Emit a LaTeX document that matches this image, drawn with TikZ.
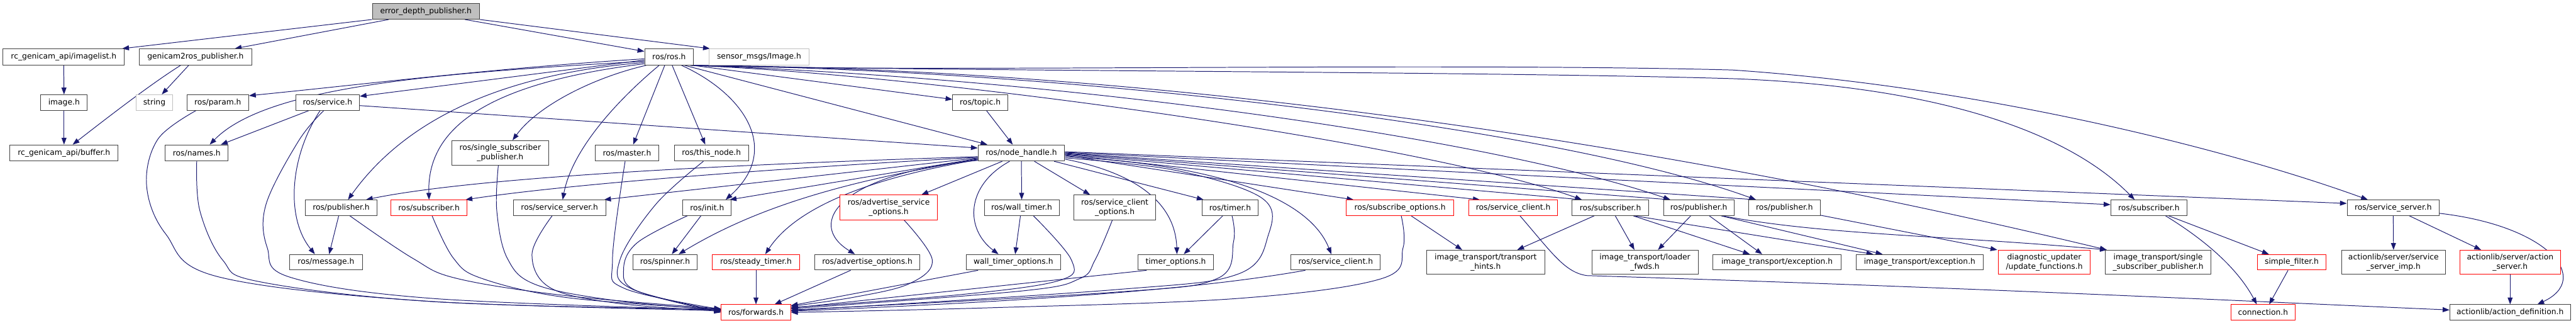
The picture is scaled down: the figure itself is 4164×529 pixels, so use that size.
\documentclass[tikz,border=0pt]{standalone}
\usepackage{fontspec}
\setmainfont{DejaVu Sans}
\usetikzlibrary{arrows.meta}
\definecolor{edgec}{HTML}{191970}
\definecolor{lgray}{HTML}{BFBFBF}
\definecolor{bordc}{HTML}{404040}
\pgfdeclarelayer{bg}
\pgfdeclarelayer{paper}
\pgfsetlayers{paper,bg,main}
\begin{document}
\begin{tikzpicture}[x=1pt,y=-1pt,
  box/.style={draw=bordc, line width=1pt, fill=white, inner sep=0pt, align=center,
    font=\fontsize{12.5}{15}\selectfont},
  redbox/.style={box, draw=red},
  graybox/.style={box, draw=lgray},
  rootbox/.style={box, fill=lgray},
  e/.style={draw=edgec, line width=1pt, -{Triangle[length=11pt,width=8pt]}},
  sm/.style={smooth, tension=0.6}]
\begin{pgfonlayer}{paper}
\fill[white] (0,0) rectangle (4164,529);
\end{pgfonlayer}
\useasboundingbox (0,0) rectangle (4164,529);
% row 0
\node[rootbox, minimum width=173pt, minimum height=25pt] (root) at (688.5,18.5) {error\_depth\_publisher.h};
% row 1
\node[box, minimum width=196pt, minimum height=26pt] (imagelist) at (103,92) {rc\_genicam\_api/imagelist.h};
\node[box, minimum width=182pt, minimum height=26pt] (g2r) at (316,92) {genicam2ros\_publisher.h};
\node[box, minimum width=79pt, minimum height=26pt] (rosros) at (1081.5,92) {ros/ros.h};
\node[graybox, minimum width=162pt, minimum height=26pt] (sensor) at (1227,92) {sensor\_msgs/Image.h};
% row 2
\node[box, minimum width=75pt, minimum height=25pt] (imageh) at (103.5,165.5) {image.h};
\node[graybox, minimum width=59pt, minimum height=25pt] (string) at (249.5,165.5) {string};
\node[box, minimum width=100pt, minimum height=25pt] (param) at (352,165.5) {ros/param.h};
\node[box, minimum width=103pt, minimum height=25pt] (service) at (529.5,165.5) {ros/service.h};
\node[box, minimum width=89pt, minimum height=25pt] (topic) at (1584.5,165.5) {ros/topic.h};
% row 3
\node[box, minimum width=175pt, minimum height=26pt] (buffer) at (103.5,247) {rc\_genicam\_api/buffer.h};
\node[box, minimum width=102pt, minimum height=26pt] (names) at (318,247) {ros/names.h};
\node[box, minimum width=157pt, minimum height=40pt] (ssp) at (808.5,247) {ros/single\_subscriber\\\_publisher.h};
\node[box, minimum width=103pt, minimum height=26pt] (master) at (1013.5,247) {ros/master.h};
\node[box, minimum width=120pt, minimum height=26pt] (thisnode) at (1150,247) {ros/this\_node.h};
\node[box, minimum width=140pt, minimum height=26pt] (nh) at (1651,247) {ros/node\_handle.h};
% row 4
\node[box, minimum width=115pt, minimum height=25pt] (pub1) at (551.5,335.5) {ros/publisher.h};
\node[redbox, minimum width=123pt, minimum height=25pt] (sub1) at (693.5,335.5) {ros/subscriber.h};
\node[box, minimum width=149pt, minimum height=25pt] (ss1) at (904.5,335.5) {ros/service\_server.h};
\node[box, minimum width=78pt, minimum height=25pt] (init) at (1143,335.5) {ros/init.h};
\node[redbox, minimum width=157pt, minimum height=40pt] (aso) at (1436.5,335) {ros/advertise\_service\\\_options.h};
\node[box, minimum width=121pt, minimum height=25pt] (walltimer) at (1651.5,335.5) {ros/wall\_timer.h};
\node[box, minimum width=132pt, minimum height=40pt] (sco) at (1802,335) {ros/service\_client\\\_options.h};
\node[box, minimum width=91pt, minimum height=25pt] (timer) at (1988.5,335.5) {ros/timer.h};
\node[redbox, minimum width=174pt, minimum height=25pt] (subopt) at (2263,335.5) {ros/subscribe\_options.h};
\node[redbox, minimum width=144pt, minimum height=25pt] (sclred) at (2446,335.5) {ros/service\_client.h};
\node[box, minimum width=124pt, minimum height=25pt] (sub2) at (2603,335.5) {ros/subscriber.h};
\node[box, minimum width=114pt, minimum height=25pt] (pub2) at (2746,335.5) {ros/publisher.h};
\node[box, minimum width=115pt, minimum height=25pt] (pub3) at (2884.5,335.5) {ros/publisher.h};
\node[box, minimum width=123pt, minimum height=25pt] (sub3) at (3473.5,335.5) {ros/subscriber.h};
\node[box, minimum width=149pt, minimum height=25pt] (ss2) at (3868.5,335.5) {ros/service\_server.h};
% row 5
\node[box, minimum width=118pt, minimum height=25pt] (message) at (527,423.5) {ros/message.h};
\node[box, minimum width=104pt, minimum height=25pt] (spinner) at (1075,423.5) {ros/spinner.h};
\node[redbox, minimum width=142pt, minimum height=25pt] (steady) at (1222,423.5) {ros/steady\_timer.h};
\node[box, minimum width=170pt, minimum height=25pt] (advopt) at (1402,423.5) {ros/advertise\_options.h};
\node[box, minimum width=152pt, minimum height=25pt] (wto) at (1638,423.5) {wall\_timer\_options.h};
\node[box, minimum width=123pt, minimum height=25pt] (tio) at (1900.5,423.5) {timer\_options.h};
\node[box, minimum width=144pt, minimum height=25pt] (sclblk) at (2159,423.5) {ros/service\_client.h};
\node[box, minimum width=191pt, minimum height=39pt] (hints) at (2401.5,423.5) {image\_transport/transport\\\_hints.h};
\node[box, minimum width=172pt, minimum height=39pt] (loader) at (2659,423.5) {image\_transport/loader\\\_fwds.h};
\node[box, minimum width=207pt, minimum height=25pt] (exc1) at (2872.5,423.5) {image\_transport/exception.h};
\node[box, minimum width=206pt, minimum height=25pt] (exc2) at (3103,423.5) {image\_transport/exception.h};
\node[redbox, minimum width=149pt, minimum height=39pt] (diag) at (3304.5,423.5) {diagnostic\_updater\\/update\_functions.h};
\node[box, minimum width=171pt, minimum height=39pt] (itssp) at (3488.5,423.5) {image\_transport/single\\\_subscriber\_publisher.h};
\node[redbox, minimum width=111pt, minimum height=25pt] (sfilter) at (3704.5,423.5) {simple\_filter.h};
\node[box, minimum width=168pt, minimum height=39pt] (ssimp) at (3869,423.5) {actionlib/server/service\\\_server\_imp.h};
\node[redbox, minimum width=163pt, minimum height=39pt] (aserver) at (4057.5,423.5) {actionlib/server/action\\\_server.h};
% row 6
\node[redbox, minimum width=112pt, minimum height=25pt] (forwards) at (1222,504.5) {ros/forwards.h};
\node[redbox, minimum width=104pt, minimum height=25pt] (conn) at (3658,504.5) {connection.h};
\node[box, minimum width=195pt, minimum height=25pt] (adef) at (4057.5,504.5) {actionlib/action\_definition.h};

\begin{pgfonlayer}{bg}
% root
\draw[e] (root.south west) -- ([xshift=-4pt]imagelist.north east);
\draw[e] ([xshift=27pt]root.south west) -- ([xshift=-28pt]g2r.north east);
\draw[e] ([xshift=-24pt]root.south east) -- ([yshift=9pt]rosros.west);
\draw[e] (root.south east) -- ([xshift=2pt]sensor.north west);
% left cluster
\draw[e] (imagelist.south) -- (imageh.north);
\draw[e] (imageh.south) -- (buffer.north);
\draw[e] ([xshift=-24pt]g2r.south) .. controls (245,135) and (180,185) .. ([xshift=14pt]buffer.north);
\draw[e] ([xshift=-11pt]g2r.south) -- ([xshift=12pt]string.north);
% ros.h left
\draw[e] ([yshift=-3pt]rosros.west) .. controls (800,110) and (600,135) .. ([yshift=11pt]param.east);
\draw[e] ([yshift=-5pt]rosros.west) -- ([yshift=10pt]service.east);
\draw[e] ([yshift=-7pt]rosros.west) .. controls (700,118) and (430,140) .. ([xshift=21pt]names.north);
\draw[e] ([yshift=-9pt]rosros.west) .. controls (800,120) and (650,200) .. ([xshift=11pt]pub1.north);
\draw[e] ([yshift=-11pt]rosros.west) .. controls (780,135) and (690,210) .. (sub1.north);
\draw[e] ([xshift=3pt]rosros.south west) .. controls (960,125) and (870,170) .. ([xshift=20pt]ssp.north);
\draw[e] ([xshift=-16pt]rosros.south) .. controls (1000,160) and (925,240) .. ([xshift=5pt]ss1.north);
\draw[e] ([xshift=-7pt]rosros.south) -- ([xshift=10pt]master.north);
\draw[e] ([xshift=5pt]rosros.south) -- ([xshift=-10pt]thisnode.north);
\draw[e] ([xshift=20pt]rosros.south) .. controls (1200,150) and (1265,240) .. ([xshift=30pt]init.north);
% ros.h right
\draw[e] ([xshift=-2pt]rosros.south east) -- ([yshift=5pt]topic.west);
\draw[e] ([xshift=25pt]rosros.south) -- ([xshift=-55pt]nh.north);
\draw[e] ([xshift=10pt]topic.south) -- ([xshift=-14pt]nh.north);
\draw[e] ([xshift=-6pt]rosros.south east) .. controls (1500,120) and (2300,230) .. ([xshift=-46pt]sub2.north);
\draw[e] ([xshift=-5pt]rosros.south east) .. controls (1700,125) and (2400,220) .. ([xshift=-46pt]pub2.north);
\draw[e] ([xshift=-4pt]rosros.south east) .. controls (1700,112) and (2500,200) .. ([xshift=-46pt]pub3.north);
\draw[e] ([xshift=-3pt]rosros.south east) .. controls (1800,110) and (2600,210) .. ([xshift=3pt]itssp.north west);
\draw[e] ([xshift=-2pt]rosros.south east) .. controls (1500,115) and (2400,115) .. (2800,127) .. controls (3150,140) and (3350,220) .. ([xshift=-23pt]sub3.north);
\draw[e] ([xshift=-1pt]rosros.south east) .. controls (1500,118) and (2300,100) .. (2800,113) .. controls (3200,140) and (3600,240) .. ([xshift=-41pt]ss2.north);
% service
\draw[e] ([yshift=-5pt]service.east) -- ([yshift=8pt]nh.west);
\draw[e] ([xshift=-30pt]service.south) -- ([xshift=39pt]names.north);
\draw[e] ([xshift=-12pt]service.south) .. controls (470,250) and (460,350) .. ([xshift=-18pt]message.north);
\draw[e] plot[sm] coordinates {([xshift=-6pt]service.south) (483,227) (430,330) (432,400) (470,448) (700,482) ([yshift=4pt]forwards.west)};
% into forwards from left
\draw[e] plot[sm] coordinates {([xshift=-35pt]param.south) (255,225) (237,300) (268,378) (353,447) (700,487) ([yshift=5pt]forwards.west)};
\draw[e] plot[sm] coordinates {(names.south) (323,340) (360,420) (420,455) (700,487) ([yshift=3pt]forwards.west)};
\draw[e] ([xshift=-4pt]pub1.south) -- ([xshift=5pt]message.north);
\draw[e] plot[sm] coordinates {([xshift=14pt]pub1.south) (667,417) (740,450) (920,478) ([yshift=6pt]forwards.west)};
\draw[e] plot[sm] coordinates {([xshift=5pt]sub1.south) (733,417) (780,450) (920,481) ([yshift=5pt]forwards.west)};
\draw[e] plot[sm] coordinates {([xshift=-3pt]ssp.south) (803,340) (820,417) (867,460) (1000,486) ([yshift=4pt]forwards.west)};
\draw[e] plot[sm] coordinates {([xshift=-12pt]ss1.south) (860,410) (890,465) (1000,490) ([yshift=2pt]forwards.west)};
\draw[e] plot[sm] coordinates {([xshift=-3pt]master.south) (990,420) (1010,466) ([yshift=5pt]forwards.west)};
\draw[e] plot[sm] coordinates {([xshift=-13pt]thisnode.south) (1060,330) (1002,420) (1020,466) ([yshift=2pt]forwards.west)};
\draw[e] ([xshift=-10pt]init.south) -- ([xshift=11pt]spinner.north);
\draw[e] plot[sm] coordinates {([xshift=-32pt]init.south) (1030,392) (1008,435) (1030,470) (forwards.west)};
% node_handle left
\draw[e] ([yshift=-6pt]nh.west) .. controls (1100,268) and (750,290) .. ([xshift=40pt]pub1.north);
\draw[e] ([yshift=-7pt]nh.west) .. controls (1200,275) and (900,300) .. ([xshift=-3pt]sub1.north east);
\draw[e] ([yshift=-8pt]nh.west) -- ([xshift=-3pt]ss1.north east);
\draw[e] ([yshift=-9pt]nh.west) -- ([xshift=-3pt]init.north east);
\draw[e] ([yshift=-10pt]nh.west) .. controls (1380,290) and (1230,330) .. ([xshift=22pt]spinner.north);
\draw[e] ([yshift=-11pt]nh.west) .. controls (1420,285) and (1290,330) .. ([xshift=15pt]steady.north);
\draw[e] ([yshift=-12pt]nh.west) .. controls (1360,280) and (1300,360) .. ([xshift=-20pt]advopt.north);
\draw[e] ([xshift=-31pt]nh.south) -- ([xshift=53pt]aso.north);
% node_handle down
\draw[e] (nh.south) -- (walltimer.north);
\draw[e] ([xshift=-19pt]nh.south) .. controls (1560,300) and (1560,370) .. ([xshift=-24pt]wto.north);
\draw[e] ([xshift=21pt]nh.south) -- ([xshift=-40pt]sco.north);
\draw[e] ([xshift=53pt]nh.south) -- ([xshift=-43pt]timer.north);
\draw[e] ([yshift=-10pt]nh.east) .. controls (1840,280) and (1900,330) .. ([xshift=2pt]tio.north);
\draw[e] plot[sm] coordinates {([yshift=-8pt]nh.east) (1900,275) (2040,320) (2050,380) (2000,443) (1800,468) ([yshift=3pt]forwards.east)};
\draw[e] ([yshift=-6pt]nh.east) .. controls (2000,268) and (2120,330) .. ([xshift=-7pt]sclblk.north);
% node_handle right
\draw[e] ([yshift=-4pt]nh.east) -- ([xshift=-75pt]subopt.north);
\draw[e] ([yshift=-3pt]nh.east) -- ([xshift=-54pt]sclred.north);
\draw[e] ([yshift=-2pt]nh.east) -- ([xshift=-46pt]sub2.north);
\draw[e] ([yshift=-1pt]nh.east) -- ([xshift=-46pt]pub2.north);
\draw[e] (nh.east) -- ([xshift=-46pt]pub3.north);
\draw[e] ([yshift=1pt]nh.east) -- ([yshift=5pt]sub3.west);
\draw[e] ([yshift=2pt]nh.east) -- ([yshift=7pt]ss2.west);
% into forwards from right
\draw[e] plot[sm] coordinates {([xshift=25pt]aso.south) (1507,420) (1470,458) (1380,480) ([yshift=10pt]forwards.east)};
\draw[e] ([xshift=-2pt]walltimer.south) -- ([xshift=3pt]wto.north);
\draw[e] plot[sm] coordinates {([xshift=19pt]walltimer.south) (1732,420) (1712,453) (1550,476) ([yshift=8pt]forwards.east)};
\draw[e] plot[sm] coordinates {([xshift=-4pt]sco.south) (1770,420) (1745,450) (1650,470) ([yshift=6pt]forwards.east)};
\draw[e] ([xshift=-12pt]timer.south) -- ([xshift=13pt]tio.north);
\draw[e] plot[sm] coordinates {([xshift=3pt]timer.south) (1994,390) (1967,450) (1800,472) ([yshift=4pt]forwards.east)};
\draw[e] ([xshift=-57pt]wto.south) -- ([yshift=11pt]forwards.east);
\draw[e] ([xshift=-47pt]tio.south) -- ([yshift=7pt]forwards.east);
\draw[e] ([xshift=-49pt]sclblk.south) .. controls (1950,465) and (1700,485) .. ([yshift=2pt]forwards.east);
\draw[e] plot[sm] coordinates {([xshift=2pt]subopt.south) (2268,400) (2233,450) (2000,482) (1600,497) (forwards.east)};
\draw[e] (steady.south) -- (forwards.north);
\draw[e] ([xshift=-27pt]advopt.south) -- ([xshift=30pt]forwards.north);
% image_transport
\draw[e] ([xshift=18pt]subopt.south) -- ([xshift=-38pt]hints.north);
\draw[e] ([xshift=-26pt]sub2.south) -- ([xshift=51pt]hints.north);
\draw[e] ([xshift=8pt]sub2.south) -- ([xshift=-17pt]loader.north);
\draw[e] ([xshift=-13pt]pub2.south) -- ([xshift=21pt]loader.north);
\draw[e] ([xshift=37pt]sub2.south) -- ([xshift=-44pt]exc1.north);
\draw[e] ([xshift=17pt]pub2.south) -- ([xshift=-24pt]exc1.north);
\draw[e] ([xshift=39pt]sub2.south) -- ([xshift=-75pt]exc2.north);
\draw[e] ([xshift=36pt]pub2.south) -- ([xshift=-60pt]exc2.north);
\draw[e] ([xshift=38pt]pub2.south) .. controls (2950,380) and (3150,380) .. ([xshift=3pt]itssp.north west);
\draw[e] ([yshift=1pt]pub3.south east) -- ([xshift=-1pt]diag.north west);
% message_filters / actionlib
\draw[e] ([xshift=32pt]sub3.south) -- ([xshift=-37pt]sfilter.north);
\draw[e] ([xshift=27pt]sub3.south) .. controls (3560,385) and (3615,430) .. ([xshift=-10pt]conn.north);
\draw[e] ([xshift=-6pt]sfilter.south) -- ([xshift=10pt]conn.north);
\draw[e] (ss2.south) -- (ssimp.north);
\draw[e] ([xshift=26pt]ss2.south) -- ([xshift=-47pt]aserver.north);
\draw[e] ([yshift=-9pt]ss2.east) .. controls (4120,365) and (4190,450) .. ([xshift=44pt]adef.north);
\draw[e] (aserver.south) -- (adef.north);
\draw[e] ([xshift=11pt]sclred.south) .. controls (2510,410) and (2530,440) .. (2565,445) .. controls (3200,465) and (3600,485) .. ([yshift=4pt]adef.west);
\end{pgfonlayer}
\end{tikzpicture}
\end{document}
